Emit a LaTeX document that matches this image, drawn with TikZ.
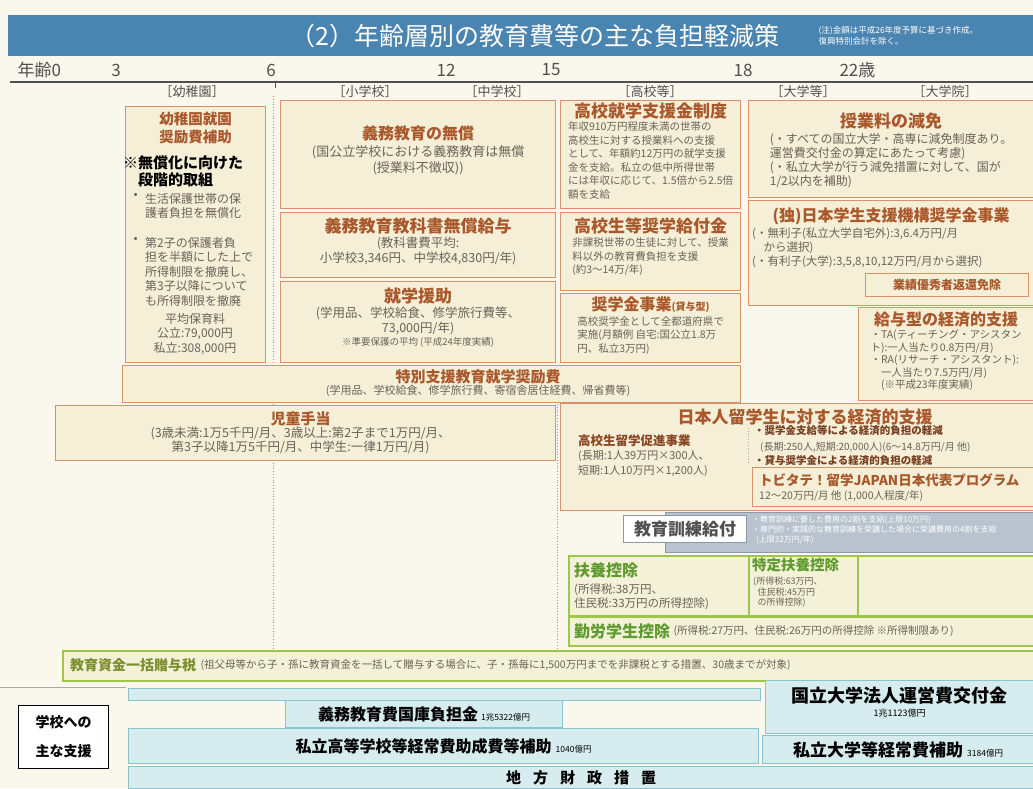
\documentclass[tikz,border=0pt]{standalone}
\usepackage{fontspec}
\setmainfont{Noto Sans CJK JP}
\usetikzlibrary{positioning}

\definecolor{bgcol}{HTML}{FAF7EC}
\definecolor{hdrcol}{HTML}{4A84B0}
\definecolor{oline}{HTML}{D9916A}
\definecolor{ofill}{HTML}{F6EFD8}
\definecolor{otitle}{HTML}{A9582C}
\definecolor{otext}{HTML}{6A6158}
\definecolor{gline}{HTML}{9DC64A}
\definecolor{gfill}{HTML}{F3F2D8}
\definecolor{gtitle}{HTML}{5E9A2E}
\definecolor{ztitle}{HTML}{7C8F2E}
\definecolor{bline}{HTML}{88C3CE}
\definecolor{bfill}{HTML}{D7ECEE}
\definecolor{kline}{HTML}{8E99A8}
\definecolor{kfill}{HTML}{B8C3CF}
\definecolor{agecol}{HTML}{505050}

\begin{document}
\begin{tikzpicture}[
        x=1pt, y=-1pt,
        obox/.style={
            draw=oline,
            fill=ofill,
            line width=1.2pt,
            anchor=north west,
            inner sep=0pt,
        },
        gbox/.style={
            draw=gline,
            fill=gfill,
            line width=1.6pt,
            anchor=north west,
            inner sep=0pt,
        },
        bbox/.style={
            draw=bline,
            fill=bfill,
            line width=1.2pt,
            anchor=north west,
            inner sep=0pt,
        },
        ttl/.style={
            font=\bfseries\fontsize{16}{19}\selectfont,
            text=otitle,
            inner sep=0pt,
        },
        txt/.style={
            font=\fontsize{12}{14.5}\selectfont,
            text=otext,
            align=center,
            inner sep=0pt,
        },
        small/.style={
            font=\fontsize{10.5}{13.5}\selectfont,
            text=otext,
            align=left,
            inner sep=0pt,
        },
        gttl/.style={
            font=\bfseries\fontsize{16}{19}\selectfont,
            text=gtitle,
            inner sep=0pt,
        },
        age/.style={
            font=\fontsize{17}{19}\selectfont,
            text=agecol,
        },
        school/.style={
            font=\fontsize{13}{15}\selectfont,
            text=agecol,
        },
    ]
        \useasboundingbox (0,0) rectangle (1033,788);
        \fill[bgcol] (0,0) rectangle (1033,788);

        % header
        \node [fill=hdrcol, anchor=north west, minimum width=1025pt, minimum height=41pt, inner sep=0pt] (band) at (8,15) {};
        \node [font=\fontsize{25}{28}\selectfont, text=white] (title) at (535,36) {（2）年齢層別の教育費等の主な負担軽減策};
        \node [font=\fontsize{8.5}{10.5}\selectfont, text=white, align=left, anchor=west] (note) at (815,36) {(注)金額は平成26年度予算に基づき作成。\\復興特別会計を除く。};

        % ages
        \node [age, anchor=west] (a0) at (14,70) {年齢0};
        \node [age] (a3) at (116,70) {3};
        \node [age] (a6) at (271,70) {6};
        \node [age] (a12) at (446,70) {12};
        \node [age] (a15) at (551,70) {15};
        \node [age] (a18) at (743,70) {18};
        \node [age, anchor=west] (a22) at (836,70) {22歳};
        \draw [agecol, line width=1.6pt] (10,82) -- (1033,82);
        \draw [agecol, line width=1pt] (275,82) -- (275,88);

        \node [school] (s1) at (192,92) {［幼稚園］};
        \node [school] (s2) at (365,92) {［小学校］};
        \node [school] (s3) at (497,92) {［中学校］};
        \node [school] (s4) at (650,92) {［高校等］};
        \node [school] (s5) at (803,92) {［大学等］};
        \node [school] (s6) at (945,92) {［大学院］};

        \draw [agecol!60, dotted, line width=0.8pt] (273,96) -- (273,648);
        \draw [agecol!60, dotted, line width=0.8pt] (557,404) -- (557,648);

        % kindergarten
        \node [obox, minimum width=140pt, minimum height=256pt] (youchi) at (125,106) {};
        \node [ttl, font=\bfseries\fontsize{14.5}{18}\selectfont, align=center, below=6pt of youchi.north] (youchit) {幼稚園就園\\奨励費補助};
        \node [font=\bfseries\fontsize{15}{17}\selectfont, align=left, inner sep=0pt, anchor=north west] (kome) at (123,155) {※無償化に向けた\\\hspace{15pt}段階的取組};
        \node [txt, align=left, anchor=north west] (yb1) at (145,193) {生活保護世帯の保\\護者負担を無償化};
        \node [txt, anchor=north east] (yd1) at ([xshift=-7pt]yb1.north west) {•};
        \node [txt, align=left, anchor=north west] (yb2) at (145,237) {第2子の保護者負\\担を半額にした上で\\所得制限を撤廃し、\\第3子以降について\\も所得制限を撤廃};
        \node [txt, anchor=north east] (yd2) at ([xshift=-7pt]yb2.north west) {•};
        \node [txt, anchor=north] (yavg) at (195,313) {平均保育料\\公立:79,000円\\私立:308,000円};

        % compulsory
        \node [obox, minimum width=275pt, minimum height=108pt] (gimu) at (280,100) {};
        \node [ttl, below=26pt of gimu.north] (gimut) {義務教育の無償};
        \node [txt, font=\fontsize{13}{15.5}\selectfont, below=4pt of gimut] (gimub) {(国公立学校における義務教育は無償\\(授業料不徴収))};

        \node [obox, minimum width=275pt, minimum height=65pt] (kyoka) at (280,212) {};
        \node [ttl, font=\bfseries\fontsize{17}{19}\selectfont, below=6pt of kyoka.north] (kyokat) {義務教育教科書無償給与};
        \node [txt, font=\fontsize{12.5}{15}\selectfont, below=2pt of kyokat] (kyokab) {(教科書費平均:\\小学校3,346円、中学校4,830円/年)};

        \node [obox, minimum width=275pt, minimum height=81pt] (shu) at (280,281) {};
        \node [ttl, font=\bfseries\fontsize{17}{19}\selectfont, below=7pt of shu.north] (shut) {就学援助};
        \node [txt, font=\fontsize{12.5}{15}\selectfont, below=2pt of shut] (shub) {(学用品、学校給食、修学旅行費等、\\73,000円/年)};
        \node [txt, font=\fontsize{9.5}{11}\selectfont, below=2pt of shub] (shun) {※準要保護の平均 (平成24年度実績)};

        % high school
        \node [obox, minimum width=180pt, minimum height=108pt] (koko) at (560,100) {};
        \node [ttl, font=\bfseries\fontsize{17}{19}\selectfont, below=3pt of koko.north] (kokot) {高校就学支援金制度};
        \node [small, below=2pt of kokot] (kokob) {年収910万円程度未満の世帯の\\高校生に対する授業料への支援\\として、年額約12万円の就学支援\\金を支給。私立の低中所得世帯\\には年収に応じて、1.5倍から2.5倍\\額を支給};

        \node [obox, minimum width=180pt, minimum height=78pt] (kyufu) at (560,212) {};
        \node [ttl, font=\bfseries\fontsize{17}{19}\selectfont, below=6pt of kyufu.north] (kyufut) {高校生等奨学給付金};
        \node [small, below=3pt of kyufut] (kyufub) {非課税世帯の生徒に対して、授業\\料以外の教育費負担を支援\\(約3～14万/年)};

        \node [obox, minimum width=180pt, minimum height=69pt] (kashi) at (560,293) {};
        \node [ttl, below=4pt of kashi.north] (kashit) {奨学金事業{\fontsize{10}{12}\selectfont (貸与型)}};
        \node [small, below=3pt of kashit] (kashib) {高校奨学金として全都道府県で\\実施(月額例 自宅:国公立1.8万\\円、私立3万円)};

        % university
        \node [obox, minimum width=285pt, minimum height=97pt] (genmen) at (748,100) {};
        \node [ttl, font=\bfseries\fontsize{17}{19}\selectfont, below=13pt of genmen.north] (genment) {授業料の減免};
        \node [small, font=\fontsize{12}{14}\selectfont, below=3pt of genment] (genmenb) {(・すべての国立大学・高専に減免制度あり。\\運営費交付金の算定にあたって考慮)\\(・私立大学が行う減免措置に対して、国が\\1/2以内を補助)};

        \node [obox, minimum width=285pt, minimum height=105pt] (jasso) at (748,200) {};
        \node [ttl, below=8pt of jasso.north] (jassot) {(独)日本学生支援機構奨学金事業};
        \node [small, font=\fontsize{11.5}{14}\selectfont, anchor=north west] (jassob) at (752,228) {(・無利子(私立大学自宅外):3,6.4万円/月\\\hspace{1em}から選択)\\(・有利子(大学):3,5,8,10,12万円/月から選択)};
        \node [obox, minimum width=163pt, minimum height=23pt, font=\bfseries\fontsize{12}{14}\selectfont, text=otitle] (yuushu) at (865,273) {業績優秀者返還免除};

        \node [obox, minimum width=175pt, minimum height=93pt] (kyuyo) at (858,307) {};
        \node [ttl, below=5pt of kyuyo.north] (kyuyot) {給与型の経済的支援};
        \node [small, font=\fontsize{10.5}{12.5}\selectfont, below=2pt of kyuyot] (kyuyob) {・TA(ティーチング・アシスタン\\ト):一人当たり0.8万円/月)\\・RA(リサーチ・アシスタント):\\\hspace{1em}一人当たり7.5万円/月)\\\hspace{1em}(※平成23年度実績)};

        % wide bands
        \node [obox, minimum width=618pt, minimum height=37pt] (toku) at (122,365) {};
        \node [ttl, font=\bfseries\fontsize{15}{17}\selectfont] (tokut) at (478,377) {特別支援教育就学奨励費};
        \node [txt, font=\fontsize{11}{13}\selectfont, below=1pt of tokut] (tokub) {(学用品、学校給食、修学旅行費、寄宿舎居住経費、帰省費等)};

        \node [obox, minimum width=500pt, minimum height=55pt] (jidou) at (55,405) {};
        \node [ttl, font=\bfseries\fontsize{15}{17}\selectfont, below=6pt of jidou.north, xshift=-5pt] (jidout) {児童手当};
        \node [txt, font=\fontsize{12.5}{14}\selectfont, below=1pt of jidout] (jidoub) {(3歳未満:1万5千円/月、3歳以上:第2子まで1万円/月、\\第3子以降1万5千円/月、中学生:一律1万円/月)};

        % study abroad
        \node [obox, minimum width=473pt, minimum height=107pt] (ryu) at (560,403) {};
        \node [ttl, font=\bfseries\fontsize{17}{19}\selectfont] (ryut) at (805,417) {日本人留学生に対する経済的支援};
        \node [ttl, font=\bfseries\fontsize{12.5}{15}\selectfont, text=otitle!80!black, anchor=west] (hsr) at (578,441) {高校生留学促進事業};
        \node [small, font=\fontsize{11}{15}\selectfont, anchor=north west] (hsrb) at (578,450) {(長期:1人39万円×300人、\\短期:1人10万円×1,200人)};
        \draw [agecol!50, dotted, line width=0.8pt] (748,428) -- (748,464);
        \node [ttl, font=\bfseries\fontsize{10.5}{12}\selectfont, text=otitle!70!black, anchor=west] (shikyu) at (754,431) {・奨学金支給等による経済的負担の軽減};
        \node [small, font=\fontsize{10}{11}\selectfont, anchor=west] (shikyub) at (760,447) {(長期:250人,短期:20,000人)(6～14.8万円/月 他)};
        \node [ttl, font=\bfseries\fontsize{10.5}{12}\selectfont, text=otitle!70!black, anchor=west] (taiyo) at (754,461) {・貸与奨学金による経済的負担の軽減};
        \node [obox, minimum width=281pt, minimum height=39pt] (tobi) at (752,467) {};
        \node [ttl, font=\bfseries\fontsize{13.5}{16}\selectfont, anchor=west] (tobit) at (759,480) {トビタテ！留学JAPAN日本代表プログラム};
        \node [small, anchor=west] (tobib) at (759,496) {12～20万円/月 他 (1,000人程度/年)};

        % training
        \node [draw=kline, fill=kfill, line width=1pt, anchor=north west, minimum width=368pt, minimum height=40pt, inner sep=0pt] (kunren) at (665,512) {};
        \node [draw=kline, fill=white, line width=1pt, anchor=north west, minimum width=123pt, minimum height=27pt, inner sep=0pt, font=\bfseries\fontsize{17}{19}\selectfont, text=agecol] (kunrent) at (623,515) {教育訓練給付};
        \node [font=\fontsize{8}{10}\selectfont, text=white, align=left, anchor=north west, inner sep=0pt] (kunrenb) at (752,516) {・教育訓練に要した費用の2割を支給(上限10万円)\\・専門的・実践的な教育訓練を受講した場合に受講費用の4割を支給\\\hspace{0.5em}(上限32万円/年)};

        % tax deductions
        \node [gbox, minimum width=180pt, minimum height=60pt] (fuyo) at (568,555) {};
        \node [gbox, minimum width=109pt, minimum height=60pt] (tokutei) at (748,555) {};
        \node [gbox, minimum width=176pt, minimum height=60pt] (fuyor) at (857,555) {};
        \node [gbox, minimum width=465pt, minimum height=29pt] (kinro) at (568,616) {};
        \node [gttl, anchor=north west] (fuyot) at (574,563) {扶養控除};
        \node [small, font=\fontsize{11.5}{14}\selectfont, anchor=north west] (fuyob) at (574,584) {(所得税:38万円、\\住民税:33万円の所得控除)};
        \node [gttl, font=\bfseries\fontsize{14.5}{16}\selectfont, anchor=north west] (tokuteit) at (752,558) {特定扶養控除};
        \node [small, font=\fontsize{9}{10.5}\selectfont, anchor=north west] (tokuteib) at (753,577) {(所得税:63万円、\\\hspace{0.5em}住民税:45万円\\\hspace{0.5em}の所得控除)};
        \node [gttl, anchor=west] (kinrot) at (574,631) {勤労学生控除};
        \node [small, font=\fontsize{10.5}{12}\selectfont, right=3pt of kinrot] (kinrob) {(所得税:27万円、住民税:26万円の所得控除 ※所得制限あり)};

        \node [gbox, minimum width=971pt, minimum height=30pt] (zoyo) at (62,650) {};
        \node [gttl, font=\bfseries\fontsize{14}{16}\selectfont, text=ztitle, anchor=west] (zoyot) at (70,665) {教育資金一括贈与税};
        \node [small, font=\fontsize{10.5}{12}\selectfont, right=4pt of zoyot] (zoyob) {(祖父母等から子・孫に教育資金を一括して贈与する場合に、子・孫毎に1,500万円までを非課税とする措置、30歳までが対象)};

        % support to schools
        \draw [agecol!50, line width=0.8pt] (0,687) -- (126,687);
        \node [draw=black, fill=white, line width=1pt, anchor=north west, minimum width=90pt, minimum height=63pt, inner sep=0pt, align=center, font=\bfseries\fontsize{14}{17}\selectfont] (gakko) at (18,705) {学校への\\[12pt]主な支援};
        \node [bbox, minimum width=632pt, minimum height=12pt] (band2) at (128,688) {};
        \node [bbox, minimum width=268pt, minimum height=53pt] (kokuritsu) at (765,680) {};
        \node [font=\bfseries\fontsize{18}{20}\selectfont, inner sep=0pt, below=7pt of kokuritsu.north] (kokuritsut) {国立大学法人運営費交付金};
        \node [font=\fontsize{9}{11}\selectfont, inner sep=0pt, below=4pt of kokuritsut] (kokuritsub) {1兆1123億円};
        \node [bbox, minimum width=277pt, minimum height=27pt, font=\fontsize{8.5}{10}\selectfont] (kokko) at (285,700) {{\bfseries\fontsize{16}{18}\selectfont 義務教育費国庫負担金}\hspace{3pt}1兆5322億円};
        \node [bbox, minimum width=630pt, minimum height=35pt, font=\fontsize{8.5}{10}\selectfont] (shiko) at (128,728) {{\bfseries\fontsize{16}{18}\selectfont 私立高等学校等経常費助成費等補助}\hspace{4pt}1040億円};
        \node [bbox, minimum width=271pt, minimum height=28pt, font=\fontsize{8.5}{10}\selectfont] (shidai) at (762,735) {{\bfseries\fontsize{17}{19}\selectfont 私立大学等経常費補助}\hspace{4pt}3184億円};
        \node [bbox, minimum width=905pt, minimum height=22pt, font=\bfseries\fontsize{15}{17}\selectfont] (chiho) at (128,766) {地\hspace{0.8em}方\hspace{0.8em}財\hspace{0.8em}政\hspace{0.8em}措\hspace{0.8em}置};
    \end{tikzpicture}
\end{document}
